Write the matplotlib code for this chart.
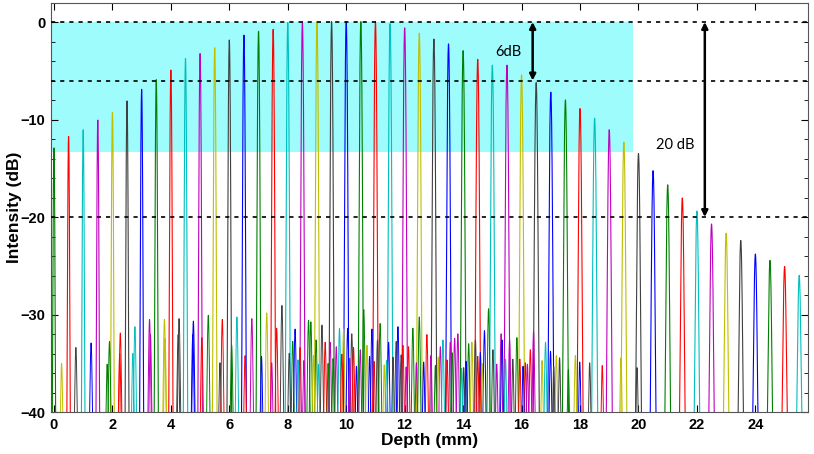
import matplotlib
matplotlib.use("Agg")
import matplotlib.pyplot as plt
import numpy as np

# main reflector peaks (depth in mm, peak level in dB)
depths = [0.0, 0.5, 1.0, 1.5, 2.0, 2.5, 3.0, 3.5, 4.0, 4.5, 5.0, 5.5, 6.0,
          6.5, 7.0, 7.5, 8.0, 8.5, 9.0, 9.5, 10.0, 10.5, 11.0, 11.5, 12.0,
          12.5, 13.0, 13.5, 14.0, 14.5, 15.0, 15.5, 16.0, 16.5, 17.0, 17.5,
          18.0, 18.5, 19.0, 19.5, 20.0, 20.5, 21.0, 21.5, 22.0, 22.5, 23.0,
          23.5, 24.0, 24.5, 25.0, 25.5]
peak_db = [-13.1, -11.9, -11.2, -10.2, -9.4, -8.2, -7.0, -6.0, -5.0, -3.8,
           -3.3, -2.7, -1.9, -1.4, -1.0, -0.8, -0.1, 0.0, 0.0, 0.0, 0.0, 0.0,
           0.0, -0.2, -0.65, -1.2, -1.8, -2.3, -3.0, -3.9, -4.5, -4.5, -5.5,
           -6.3, -7.3, -8.1, -9.0, -10.0, -11.2, -12.5, -13.7, -15.5, -17.0,
           -18.4, -19.8, -21.2, -22.2, -23.0, -24.5, -25.2, -25.9, -26.9]

# small noise / ghost bumps near the floor (depth, level, colour)
noise_x = [0.26, 0.75, 1.27, 1.90, 2.27, 2.77, 3.27, 3.78, 4.28, 4.77, 5.28,
           5.76, 6.26, 6.77, 7.28, 7.62, 7.80, 2.25, 2.70, 3.30, 3.80, 5.06,
           5.68, 6.08, 6.54, 1.82, 4.25, 4.75,
           8.17, 8.25, 8.42, 8.71, 8.79, 8.97, 9.17, 9.28, 9.45, 9.66, 9.77,
           9.91, 10.05, 10.19, 10.25, 10.48, 10.60, 10.71, 10.88, 11.07,
           11.16, 11.45, 11.71, 11.77, 11.94, 12.13, 12.28, 12.50, 12.76,
           12.90, 13.22, 13.31, 13.56, 13.71, 13.82, 14.02, 14.19, 14.30,
           14.42, 14.59, 14.73, 14.87, 15.02, 15.30, 15.33, 15.59, 15.84,
           15.94, 16.13, 16.30, 16.41, 16.82, 16.99, 17.19, 17.30, 17.84,
           17.99, 18.33, 18.76, 19.40, 19.95,
           8.55, 9.05, 9.55, 10.35, 10.95, 11.30, 11.60, 12.05, 12.65, 13.05,
           13.45, 13.95, 14.65, 15.15, 15.70, 16.05,
           7.10, 7.45, 8.05, 8.35, 8.88, 9.38, 9.85, 10.12, 10.80, 11.38,
           11.88, 12.40, 13.15, 13.62, 14.10, 14.50, 15.45, 16.20, 16.70,
           17.10, 17.60]
noise_db = [-37.9, -35.7, -35.1, -34.9, -33.8, -33.0, -32.1, -32.1, -32.0,
            -32.3, -31.6, -32.1, -31.8, -32.0, -31.3, -33.2, -30.4, -36.5,
            -36.5, -34.0, -34.5, -34.4, -37.8, -35.4, -36.8, -38.0, -34.0,
            -34.0,
            -34.9, -33.3, -35.7, -32.2, -32.4, -34.7, -32.8, -35.0, -35.0,
            -35.6, -33.2, -33.3, -33.2, -33.9, -35.7, -36.0, -30.9, -35.4,
            -33.3, -34.7, -32.6, -35.0, -34.9, -33.0, -35.4, -35.6, -33.2,
            -31.8, -34.0, -36.8, -35.6, -34.7, -35.0, -34.5, -33.9, -38.5,
            -35.2, -35.0, -34.7, -36.4, -33.5, -30.8, -36.0, -33.9, -34.7,
            -34.7, -34.4, -37.3, -37.8, -36.0, -33.6, -35.0, -36.2, -36.8,
            -37.1, -36.8, -37.7, -37.8, -38.2, -37.1, -38.5,
            -37.5, -38.0, -37.2, -38.3, -37.6, -38.1, -37.0, -38.4, -37.7,
            -38.2, -37.4, -38.6, -37.9, -38.0, -37.3, -38.3,
            -36.9, -37.8, -36.5, -37.4, -36.8, -37.9, -36.6, -37.2, -36.9,
            -37.5, -36.7, -37.8, -37.0, -36.4, -37.6, -36.9, -37.3, -38.0,
            -37.5, -38.4, -38.8]
noise_col = ['y', 'k', 'b', 'g', 'r', 'c', 'm', 'y', 'k', 'b', 'g', 'r', 'c',
             'm', 'y', 'r', 'k', 'r', 'c', 'm', 'y', 'r', 'k', 'g', 'r', 'g',
             'k', 'b',
             'g', 'b', 'r', 'g', 'g', 'g', 'k', 'r', 'm', 'm', 'c', 'y', 'b',
             'k', 'r', 'm', 'g', 'y', 'b', 'k', 'g', 'b', 'k', 'b', 'r', 'r',
             'g', 'g', 'r', 'm', 'm', 'c', 'm', 'm', 'm', 'k', 'g', 'y', 'k',
             'b', 'b', 'g', 'k', 'm', 'b', 'm', 'g', 'r', 'r', 'r', 'm', 'c',
             'b', 'y', 'k', 'y', 'b', 'k', 'r', 'y', 'k',
             'm', 'c', 'g', 'b', 'r', 'y', 'k', 'm', 'b', 'g', 'r', 'c', 'y',
             'm', 'k', 'b',
             'b', 'm', 'k', 'c', 'y', 'g', 'r', 'm', 'b', 'c', 'k', 'm', 'y',
             'g', 'b', 'r', 'c', 'm', 'y', 'k', 'g']

matlab = {'b': (0, 0, 1), 'g': (0, 0.5, 0), 'r': (1, 0, 0),
          'c': (0, 0.75, 0.75), 'm': (0.75, 0, 0.75), 'y': (0.75, 0.75, 0),
          'k': (0.25, 0.25, 0.25)}
cycle = 'grcmykb'
floor = 10 ** (-46 / 20)


def bump(x0, level, s):
    x = np.linspace(x0 - 8 * s, x0 + 8 * s, 400)
    a = 10 ** (level / 20) * np.exp(-(x - x0) ** 2 / (2 * s ** 2))
    return x, 20 * np.log10(a + floor)


fig = plt.figure(figsize=(8.14, 4.54), dpi=100)
ax = fig.add_axes([0.0627, 0.0925, 0.9299, 0.8998])

ax.fill_between([-0.1, 19.8], -13.35, 0, color='#9ffcfc', lw=0, zorder=0)

for i, (d, p) in enumerate(zip(depths, peak_db)):
    s = 0.020 + 0.0008 * d
    x, y = bump(d, p, s)
    ax.plot(x, y, color=matlab[cycle[i % 7]], lw=0.8, zorder=2)

for d, p, c in zip(noise_x, noise_db, noise_col):
    x, y = bump(d, p, 0.03)
    ax.plot(x, y, color=matlab[c], lw=0.7, zorder=2)

for lvl in [0, -6, -20]:
    ax.axhline(lvl, color='black', lw=1.2, ls=(0, (2.5, 3)), zorder=3)

ax.annotate('', xy=(16.38, 0), xytext=(16.38, -6),
            arrowprops=dict(arrowstyle='<|-|>', color='black', lw=1.8,
                            mutation_scale=9, shrinkA=0, shrinkB=0), zorder=4)
ax.annotate('', xy=(22.27, 0), xytext=(22.27, -20),
            arrowprops=dict(arrowstyle='<|-|>', color='black', lw=1.8,
                            mutation_scale=9, shrinkA=0, shrinkB=0), zorder=4)
ax.text(15.55, -3.1, '6dB', fontsize=10.5, family='Lato', ha='center', va='center')
ax.text(21.27, -12.6, '20 dB', fontsize=10.5, family='Lato', ha='center', va='center')

ax.set_xlim(-0.1, 25.8)
ax.set_ylim(-40, 1.9)
ax.set_xticks(np.arange(0, 25, 2))
ax.set_yticks([0, -10, -20, -30, -40])
ax.set_yticks(np.arange(-40, 1, 2), minor=True)
ax.tick_params(which='both', direction='in', top=True, right=True,
               labelsize=10.5, pad=4)
ax.tick_params(which='major', length=5)
ax.tick_params(which='minor', length=3)
for lab in ax.get_xticklabels() + ax.get_yticklabels():
    lab.set_fontweight('bold')
    lab.set_family('Liberation Sans')
for sp in ax.spines.values():
    sp.set_color('#555555')

ax.set_xlabel('Depth (mm)', fontsize=12.5, fontweight='bold',
              family='Liberation Sans', labelpad=1)
ax.set_ylabel('Intensity (dB)', fontsize=12.5, fontweight='bold',
              family='Liberation Sans', labelpad=-1)

fig.savefig('out.png', dpi=100)
